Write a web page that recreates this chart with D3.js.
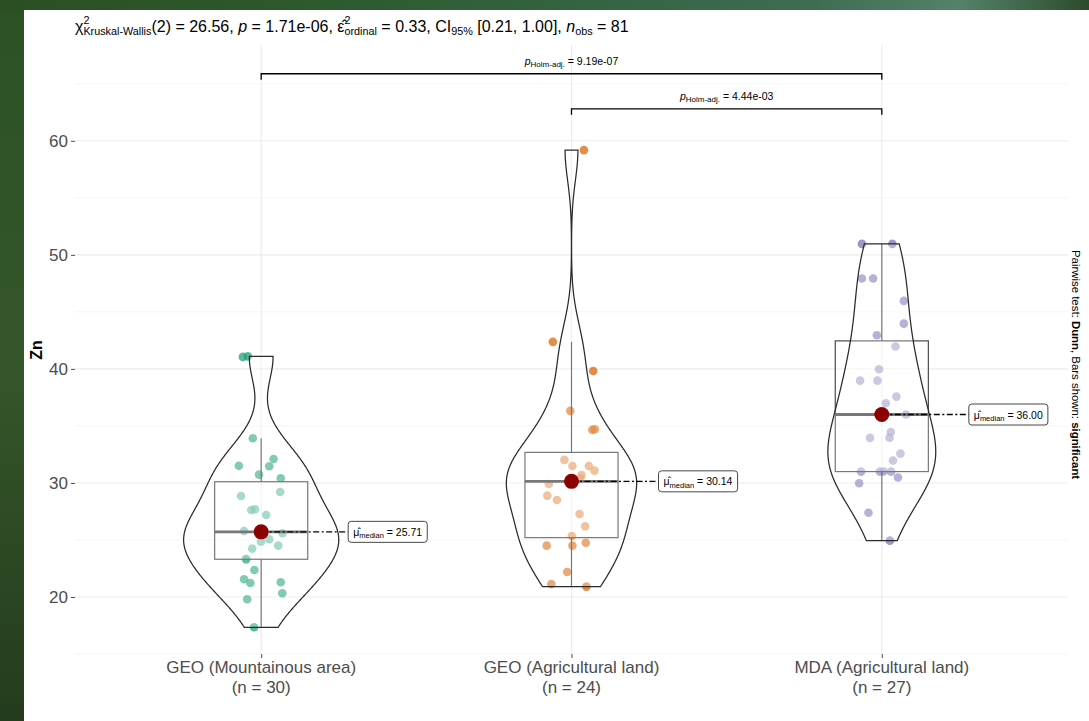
<!DOCTYPE html>
<html><head><meta charset="utf-8">
<script src="https://cdn.jsdelivr.net/npm/d3@7"></script>
<style>
html,body{margin:0;padding:0;background:#fff;}
svg{display:block;font-family:"Liberation Sans",Arial,Helvetica,sans-serif;}
</style></head>
<body><svg id="chart" width="1089" height="721"></svg>
<script>
// ---------------- data ----------------
const categories = ["GEO (Mountainous area)", "GEO (Agricultural land)", "MDA (Agricultural land)"];
const zn_geoMountain = [41.05,41.1,33.92,32.1,31.5,31.46,30.73,30.41,28.86,29.2,27.63,27.69,27.19,25.79,25.59,24.85,25.06,24.5,24.24,23.33,22.37,21.55,21.23,21.29,19.8,20.32,17.34,23.3,25.63,25.79];
const jit_geoMountain = [-0.059,-0.043,-0.027,0.040,-0.072,0.026,-0.007,0.063,-0.065,0.061,-0.032,-0.020,0.016,-0.055,0.069,-0.001,0.026,0.055,-0.029,-0.049,-0.022,-0.055,-0.035,0.063,-0.045,0.068,-0.023,-0.048,-0.010,0.003];
const zn_geoAgri = [59.18,42.37,39.82,36.32,34.65,34.71,32.02,31.49,31.49,31.08,30.7,30.38,29.9,28.89,28.51,27.28,26.2,25.35,24.5,24.5,24.76,22.19,21.14,20.91];
const jit_geoAgri = [0.040,-0.060,0.070,-0.004,0.067,0.075,-0.023,0.003,0.056,0.074,0.032,0.029,-0.073,-0.078,-0.047,0.026,0.044,0.001,-0.080,0.003,0.046,-0.014,-0.065,0.048];
const zn_mdaAgri = [50.96,50.96,47.92,47.92,45.96,43.97,42.95,41.96,39.97,38.97,38.97,37.57,36.99,36.0,34.47,33.95,33.97,32.57,31.96,30.99,30.99,30.99,31.0,30.47,29.97,27.39,24.94];
const jit_mdaAgri = [-0.064,0.034,-0.064,-0.028,0.071,0.071,-0.016,0.044,-0.009,-0.070,-0.014,0.047,0.013,0.078,0.029,-0.038,0.025,0.060,0.036,-0.067,-0.006,0.030,0.006,0.052,-0.073,-0.043,0.026];
const groupValues = [zn_geoMountain, zn_geoAgri, zn_mdaAgri];
const groupJitter = [jit_geoMountain, jit_geoAgri, jit_mdaAgri];
const groupColors = ["#1B9E77", "#D95F02", "#7570B3"];
const yTicks = [20, 30, 40, 50, 60];
const yMinor = [15, 25, 35, 45, 55, 65];
const bracketPairs = [[0, 2], [1, 2]];
const bracketLevels = [65.88, 62.8];
const bracketP = ["9.19e-07", "4.44e-03"];

// ---------------- layout ----------------
const svg = d3.select("#chart");
const W = 1089, H = 721;
const panel = {left: 75, right: 1068, top: 45, bottom: 654};

// background
const defs = svg.append("defs");
const gTop = defs.append("linearGradient").attr("id", "bgTop").attr("x1", 0).attr("x2", 1).attr("y1", 0).attr("y2", 0);
[[0,"#2b4f22"],[0.3,"#2d5a2e"],[0.55,"#356443"],[0.75,"#3d6e52"],[0.88,"#55826a"],[0.95,"#3d6346"],[1,"#2e4a2c"]].forEach(s=>gTop.append("stop").attr("offset",s[0]).attr("stop-color",s[1]));
const gLeft = defs.append("linearGradient").attr("id", "bgLeft").attr("x1", 0).attr("x2", 0).attr("y1", 0).attr("y2", 1);
[[0,"#2c5224"],[0.5,"#35562a"],[1,"#243c1d"]].forEach(s=>gLeft.append("stop").attr("offset",s[0]).attr("stop-color",s[1]));
svg.append("rect").attr("x",0).attr("y",0).attr("width",W).attr("height",H).attr("fill","url(#bgTop)");
svg.append("rect").attr("x",0).attr("y",10).attr("width",24).attr("height",H-10).attr("fill","url(#bgLeft)");
svg.append("rect").attr("x",24).attr("y",10).attr("width",W-24).attr("height",H-10).attr("fill","#ffffff");

const x = d3.scalePoint().domain(d3.range(categories.length)).range([panel.left, panel.right]).padding(0.6);
const step = x.step();
const y = d3.scaleLinear().domain([15, 68.4]).range([panel.bottom, panel.top]);

// grid
const grid = svg.append("g");
grid.selectAll(".minor").data(yMinor).join("line")
  .attr("x1", panel.left).attr("x2", panel.right).attr("y1", d=>y(d)).attr("y2", d=>y(d))
  .attr("stroke", "#f3f3f3").attr("stroke-width", 0.8);
grid.selectAll(".major").data(yTicks).join("line")
  .attr("x1", panel.left).attr("x2", panel.right).attr("y1", d=>y(d)).attr("y2", d=>y(d))
  .attr("stroke", "#ebebeb").attr("stroke-width", 1.1);
grid.selectAll(".vert").data(d3.range(categories.length)).join("line")
  .attr("x1", d=>x(d)).attr("x2", d=>x(d)).attr("y1", panel.top).attr("y2", panel.bottom)
  .attr("stroke", "#ebebeb").attr("stroke-width", 1.1);

// axes
const yAxis = d3.axisLeft(y).tickValues(yTicks).tickSize(4).tickPadding(3);
const gy = svg.append("g").attr("transform", `translate(${panel.left},0)`).call(yAxis);
gy.select(".domain").remove();
gy.selectAll(".tick line").attr("stroke", "#4d4d4d");
gy.selectAll(".tick text").attr("fill", "#4d4d4d").attr("font-size", 17).attr("font-family", "Liberation Sans, Arial, sans-serif");

const xAxis = d3.axisBottom(x).tickSize(4).tickFormat(()=>"");
const gx = svg.append("g").attr("transform", `translate(0,${panel.bottom})`).call(xAxis);
gx.select(".domain").remove();
gx.selectAll(".tick line").attr("stroke", "#4d4d4d");
categories.forEach((c, i) => {
  const t = svg.append("text").attr("x", x(i)).attr("y", 673).attr("text-anchor", "middle")
    .attr("fill", "#4d4d4d").attr("font-size", 17);
  t.append("tspan").attr("x", x(i)).text(c);
  t.append("tspan").attr("x", x(i)).attr("dy", 20).text(`(n = ${groupValues[i].length})`);
});

svg.append("text").attr("transform", "translate(42,350) rotate(-90)").attr("text-anchor", "middle")
  .attr("font-size", 16).attr("font-weight", "bold").attr("fill", "#000").text("Zn");

// ---------------- stats ----------------
function stats(v) {
  const s = v.slice().sort(d3.ascending);
  const q1 = d3.quantile(s, 0.25), med = d3.quantile(s, 0.5), q3 = d3.quantile(s, 0.75);
  const iqr = q3 - q1;
  const lo = d3.min(s.filter(d => d >= q1 - 1.5 * iqr));
  const hi = d3.max(s.filter(d => d <= q3 + 1.5 * iqr));
  const sd = d3.deviation(s);
  const bw = 0.9 * Math.min(sd, iqr / 1.34) * Math.pow(s.length, -0.2);
  const n = s.length, mn = s[0], mx = s[n - 1];
  const dens = d3.range(512).map(k => {
    const yy = mn + (mx - mn) * k / 511;
    let sum = 0;
    for (const xi of s) { const z = (yy - xi) / bw; sum += Math.exp(-0.5 * z * z); }
    return {v: yy, d: sum / (n * bw * Math.sqrt(2 * Math.PI))};
  });
  return {q1, med, q3, lo, hi, dens};
}
const allStats = groupValues.map(stats);
const maxDens = d3.max(allStats, s => d3.max(s.dens, d => d.d));

// ---------------- points ----------------
groupValues.forEach((vals, i) => {
  svg.append("g").selectAll("circle").data(vals).join("circle")
    .attr("cx", (d, k) => x(i) + groupJitter[i][k] * step)
    .attr("cy", d => y(d)).attr("r", 4.3)
    .attr("fill", groupColors[i]).attr("fill-opacity", 0.72);
});

// ---------------- boxplots ----------------
allStats.forEach((s, i) => {
  const g = svg.append("g");
  const bw = 0.3 * step;
  g.append("line").attr("x1", x(i)).attr("x2", x(i)).attr("y1", y(s.hi)).attr("y2", y(s.q3)).attr("stroke", "#4a4a4a").attr("stroke-width", 1.2);
  g.append("line").attr("x1", x(i)).attr("x2", x(i)).attr("y1", y(s.q1)).attr("y2", y(s.lo)).attr("stroke", "#4a4a4a").attr("stroke-width", 1.2);
  g.append("rect").attr("x", x(i) - bw / 2).attr("width", bw).attr("y", y(s.q3)).attr("height", y(s.q1) - y(s.q3))
    .attr("fill", "#fff").attr("fill-opacity", 0.3).attr("stroke", "#4a4a4a").attr("stroke-width", 1.2);
  g.append("line").attr("x1", x(i) - bw / 2).attr("x2", x(i) + bw / 2).attr("y1", y(s.med)).attr("y2", y(s.med))
    .attr("stroke", "#4a4a4a").attr("stroke-width", 2.8);
});

// ---------------- violins ----------------
allStats.forEach((s, i) => {
  const half = d => (d.d / maxDens) * 0.25 * step;
  const area = d3.area().y(d => y(d.v)).x0(d => x(i) - half(d)).x1(d => x(i) + half(d));
  svg.append("path").datum(s.dens).attr("d", area).attr("fill", "#fff").attr("fill-opacity", 0.25)
    .attr("stroke", "#2a2a2a").attr("stroke-width", 1.25);
});

// ---------------- centrality ----------------
allStats.forEach((s, i) => {
  const cy = y(s.med);
  const lx = x(i) + 87;
  svg.append("line").attr("x1", x(i)).attr("x2", lx).attr("y1", cy).attr("y2", cy)
    .attr("stroke", "#000").attr("stroke-width", 1.3).attr("stroke-dasharray", "6,2.5,2,2.5");
  svg.append("circle").attr("cx", x(i)).attr("cy", cy).attr("r", 7.5).attr("fill", "#8b0000");
  const lg = svg.append("g");
  const rect = lg.append("rect").attr("fill", "#fff").attr("stroke", "#333").attr("stroke-width", 0.9).attr("rx", 3);
  const t = lg.append("text").attr("x", lx + 5).attr("y", cy + 4).attr("font-size", 10.5).attr("fill", "#000");
  t.append("tspan").text("μ̂");
  t.append("tspan").attr("font-size", 7.5).attr("dy", 2.5).text("median");
  t.append("tspan").attr("dy", -2.5).text(" = " + s.med.toFixed(2));
  const bb = t.node().getBBox();
  rect.attr("x", lx).attr("y", cy - 10.5).attr("width", bb.width + 10).attr("height", 21);
});

// ---------------- brackets ----------------
bracketPairs.forEach((p, k) => {
  const yl = y(bracketLevels[k]);
  const x1 = x(p[0]), x2 = x(p[1]);
  svg.append("path").attr("d", `M${x1},${yl + 6}V${yl}H${x2}V${yl + 6}`)
    .attr("fill", "none").attr("stroke", "#000").attr("stroke-width", 1.3);
  const t = svg.append("text").attr("x", (x1 + x2) / 2).attr("y", yl - 9).attr("text-anchor", "middle")
    .attr("font-size", 10.5).attr("fill", "#000");
  t.append("tspan").attr("font-style", "italic").text("p");
  t.append("tspan").attr("font-size", 8).attr("dy", 2).text("Holm-adj.");
  t.append("tspan").attr("dy", -2).text(" = " + bracketP[k]);
});

// ---------------- title ----------------
const title = svg.append("text").attr("x", 75).attr("y", 32).attr("font-size", 16).attr("fill", "#000");
title.append("tspan").text("χ");
title.append("tspan").attr("font-size", 10.8).attr("dy", -8).text("2");
title.append("tspan").attr("font-size", 10.8).attr("dx", -6).attr("dy", 11).text("Kruskal-Wallis");
title.append("tspan").attr("dy", -3).text("(2) = 26.56, ");
title.append("tspan").attr("font-style", "italic").text("p");
title.append("tspan").text(" = 1.71e-06, ");
title.append("tspan").text("ε̂");
title.append("tspan").attr("font-size", 10.8).attr("dy", -8).text("2");
title.append("tspan").attr("font-size", 10.8).attr("dx", -6).attr("dy", 11).text("ordinal");
title.append("tspan").attr("dy", -3).text(" = 0.33, CI");
title.append("tspan").attr("font-size", 10.8).attr("dy", 3).text("95%");
title.append("tspan").attr("dy", -3).text(" [0.21, 1.00], ");
title.append("tspan").attr("font-style", "italic").text("n");
title.append("tspan").attr("font-size", 10.8).attr("dy", 3).text("obs");
title.append("tspan").attr("dy", -3).text(" = 81");

// ---------------- right caption ----------------
const cap = svg.append("text").attr("transform", "translate(1072,250) rotate(90)").attr("font-size", 11.4).attr("fill", "#000");
cap.append("tspan").text("Pairwise test: ");
cap.append("tspan").attr("font-weight", "bold").text("Dunn");
cap.append("tspan").text(", Bars shown: ");
cap.append("tspan").attr("font-weight", "bold").text("significant");
</script></body></html>
